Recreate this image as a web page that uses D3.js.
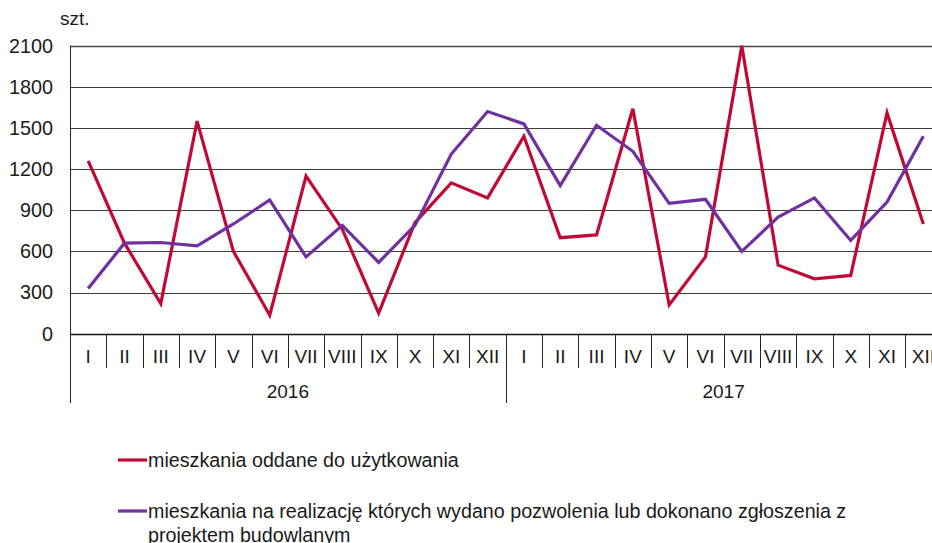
<!DOCTYPE html>
<html>
<head>
<meta charset="utf-8">
<script src="https://cdn.jsdelivr.net/npm/d3@7"></script>
<style>
  body { margin: 0; background: #fff; overflow: hidden; }
  text { font-family: "Liberation Sans", Arial, sans-serif; fill: #1a1a1a; }
</style>
</head>
<body>
<div id="chart"></div>
<script>
// chart data
const years = ["2016", "2017"];
const months = ["I", "II", "III", "IV", "V", "VI", "VII", "VIII", "IX", "X", "XI", "XII"];
const oddane = [1260, 660, 220, 1550, 600, 135, 1150, 760, 150, 810, 1100, 990,
                1440, 700, 720, 1640, 210, 560, 2100, 500, 400, 425, 1610, 800];
const pozwolenia = [330, 660, 665, 640, 800, 975, 560, 790, 520, 790, 1310, 1620,
                    1530, 1080, 1520, 1330, 950, 980, 600, 850, 990, 680, 960, 1440];
const yTicks = [0, 300, 600, 900, 1200, 1500, 1800, 2100];
const legendLabels = [
  ["mieszkania oddane do użytkowania"],
  ["mieszkania na realizację których wydano pozwolenia lub dokonano zgłoszenia z", "projektem budowlanym"]
];

const width = 932;
const height = 543;
const colors = ["#c00a35", "#7030a0"];

const svg = d3.select("#chart")
  .append("svg")
  .attr("width", width)
  .attr("height", height);

// one key per month of both years
const keys = years.flatMap(y => months.map(m => y + "-" + m));

const x = d3.scaleBand()
  .domain(keys)
  .range([70, 941.5]);

const y = d3.scaleLinear()
  .domain([0, 2100])
  .range([333.7, 45.7]);

// grid lines
svg.append("g")
  .selectAll("line")
  .data(yTicks.filter(d => d > 0))
  .enter()
  .append("line")
  .attr("x1", 70)
  .attr("x2", width)
  .attr("y1", d => Math.round(y(d)) + 0.5)
  .attr("y2", d => Math.round(y(d)) + 0.5)
  .attr("stroke", d => d === 2100 ? "#444" : "#3c3c3c")
  .attr("stroke-width", d => d === 2100 ? 1.6 : 1);

// y labels
svg.append("g")
  .selectAll("text")
  .data(yTicks)
  .enter()
  .append("text")
  .attr("x", 53)
  .attr("y", d => y(d))
  .attr("dy", "0.35em")
  .attr("text-anchor", "end")
  .style("font-size", "19.8px")
  .text(d => d);

svg.append("text")
  .attr("x", 60)
  .attr("y", 25)
  .style("font-size", "19px")
  .text("szt.");

// axes frame
const zeroY = Math.round(y(0)) + 0.5;
svg.append("line")
  .attr("x1", 70).attr("x2", width)
  .attr("y1", zeroY).attr("y2", zeroY)
  .attr("stroke", "#111").attr("stroke-width", 1.5);

svg.append("line")
  .attr("x1", 70.5).attr("x2", 70.5)
  .attr("y1", y(2100)).attr("y2", 403)
  .attr("stroke", "#222").attr("stroke-width", 1);

// month separators
svg.append("g")
  .selectAll("line")
  .data(keys.slice(1))
  .enter()
  .append("line")
  .attr("x1", d => Math.round(x(d)) + 0.5)
  .attr("x2", d => Math.round(x(d)) + 0.5)
  .attr("y1", zeroY)
  .attr("y2", (d, i) => (i + 1) % 12 === 0 ? 403 : 368)
  .attr("stroke", "#222");

// month labels
svg.append("g")
  .selectAll("text")
  .data(keys)
  .enter()
  .append("text")
  .attr("x", d => x(d) + x.bandwidth() / 2)
  .attr("y", 363)
  .attr("text-anchor", "middle")
  .style("font-size", "19px")
  .text(d => d.split("-")[1]);

// year labels
svg.append("g")
  .selectAll("text")
  .data(years)
  .enter()
  .append("text")
  .attr("x", d => x(d + "-I") + x.bandwidth() * 6)
  .attr("y", 398)
  .attr("text-anchor", "middle")
  .style("font-size", "19px")
  .text(d => d);

// lines
const line = d3.line()
  .x((d, i) => x(keys[i]) + x.bandwidth() / 2)
  .y(d => y(d));

[oddane, pozwolenia].forEach((s, i) => {
  svg.append("path")
    .datum(s)
    .attr("fill", "none")
    .attr("stroke", colors[i])
    .attr("stroke-width", 3.2)
    .attr("stroke-linejoin", "miter")
    .attr("d", line);
});

// legend
const legendY = [460, 511];
legendLabels.forEach((lines, i) => {
  svg.append("line")
    .attr("x1", 118).attr("x2", 147)
    .attr("y1", legendY[i]).attr("y2", legendY[i])
    .attr("stroke", colors[i])
    .attr("stroke-width", 3.2);
  lines.forEach((t, j) => {
    svg.append("text")
      .attr("x", 148)
      .attr("y", legendY[i] + j * 24)
      .attr("dy", "0.35em")
      .style("font-size", "19.7px")
      .text(t);
  });
});
</script>
</body>
</html>
